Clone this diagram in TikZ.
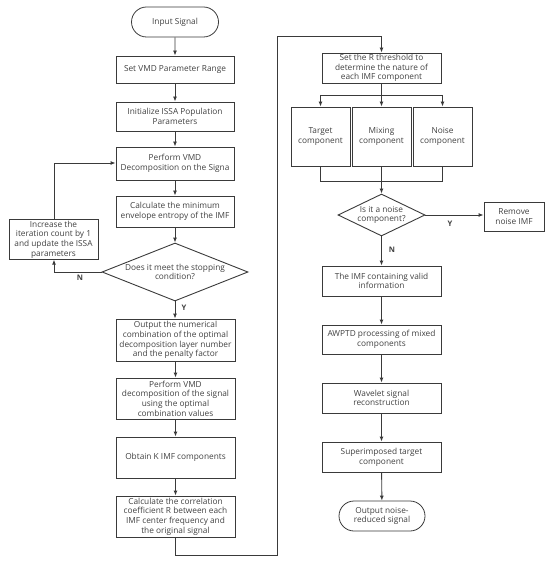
\documentclass[tikz,border=0pt]{standalone}
\usepackage{fontspec}
\setmainfont{Open Sans}
\usetikzlibrary{shapes.geometric,shapes.misc,arrows.meta}
\definecolor{ln}{HTML}{3A3A3A}
\definecolor{tx}{HTML}{404040}
\begin{document}
\begin{tikzpicture}[x=1pt,y=-1pt,
  every node/.style={font=\fontsize{8.3}{9.7}\selectfont, text=tx, align=center, inner sep=1pt},
  box/.style={draw=ln, line width=0.9pt, rectangle, minimum width=#1},
  box/.default=118,
  term/.style={draw=ln, line width=0.8pt, rounded rectangle, minimum width=88, minimum height=30},
  dec/.style={draw=ln, line width=0.9pt, diamond, inner sep=0pt, aspect=2.5},
  arr/.style={draw=ln, line width=0.9pt, -{Latex[length=5pt,width=4pt]}},
  ln/.style={draw=ln, line width=0.9pt},
  lab/.style={font=\fontsize{7.6}{9}\selectfont\bfseries}]
\useasboundingbox (0,0) rectangle (550,561);
% left column
\node[term, minimum width=89] (in) at (175,22) {Input Signal};
\node[box, minimum height=27] (set) at (175,69.5) {Set VMD Parameter Range};
\node[box, minimum height=29] (init) at (175,116.5) {Initialize ISSA Population\\Parameters};
\node[box, minimum height=33] (perf) at (175,163.5) {Perform VMD\\Decomposition on the Signa};
\node[box, minimum height=31] (calc) at (175,211.5) {Calculate the minimum\\envelope entropy of the IMF};
\node[box=89, minimum height=37] (inc) at (53.5,239.5) {Increase the\\iteration count by 1\\and update the ISSA\\parameters};
\node[dec, minimum width=146, minimum height=58] (stop) at (175,272) {};
\node (stoptxt) at (175,272) {Does it meet the stopping\\condition?};
\node[box=119, minimum height=42] (out) at (175.5,340) {Output the numerical\\combination of the optimal\\decomposition layer number\\and the penalty factor};
\node[box=119, minimum height=41] (vmd2) at (175.5,398.5) {Perform VMD\\decomposition of the signal\\using the optimal\\combination values};
\node[box=119, minimum height=41] (obt) at (175.5,457.5) {Obtain K IMF components};
\node[box=119, minimum height=41] (corr) at (175.5,516.5) {Calculate the correlation\\coefficient R between each\\IMF center frequency and\\the original signal};
% right column
\node[box=119, minimum height=30] (setr) at (381.5,68) {Set the R threshold to\\determine the nature of\\each IMF component};
\node[box=59, minimum height=59] (tgt) at (320.5,136.5) {Target\\component};
\node[box=59, minimum height=59] (mix) at (381.5,136.5) {Mixing\\component};
\node[box=59, minimum height=59] (noi) at (442.5,136.5) {Noise\\component};
\node[dec, minimum width=87, minimum height=42, aspect=2] (isn) at (381.5,215) {};
\node (isntxt) at (381.5,215) {Is it a noise\\component?};
\node[box=60, minimum height=29] (rem) at (514,216.5) {Remove\\noise IMF};
\node[box=119, minimum height=30] (imf) at (381.5,281) {The IMF containing valid\\information};
\node[box=119, minimum height=29] (awp) at (381.5,339.5) {AWPTD processing of mixed\\components};
\node[box=119, minimum height=30] (wav) at (381.5,398) {Wavelet signal\\reconstruction};
\node[box=119, minimum height=30] (sup) at (381.5,457) {Superimposed target\\component};
\node[term] (out2) at (382,516) {Output noise-\\reduced signal};
% coordinates
\coordinate (l1) at (54,272);
\coordinate (l2) at (54,163);
\coordinate (b1) at (175.5,555);
\coordinate (b2) at (277,555);
\coordinate (b3) at (277,36);
\coordinate (b4) at (381.5,36);
\coordinate (s1) at (320.5,95);
\coordinate (s2) at (442.5,95);
\coordinate (s0) at (381.5,95);
\coordinate (m1) at (320.5,181);
\coordinate (m2) at (442.5,181);
\coordinate (m0) at (381.5,181);
% connectors
\draw[arr] (in) -- (set);
\draw[arr] (set) -- (init);
\draw[arr] (init) -- (perf);
\draw[arr] (perf) -- (calc);
\draw[arr] (calc) -- (stop.north);
\draw[arr] (stop.west) -- (l1) -- (inc.south -| l1);
\draw[arr] (inc.north -| l2) -- (l2) -- (perf.west |- l2);
\draw[arr] (stop.south) -- (out.north -| stop.south);
\draw[arr] (out) -- (vmd2);
\draw[arr] (vmd2) -- (obt);
\draw[arr] (obt) -- (corr);
\draw[arr] (corr.south) -- (b1) -- (b2) -- (b3) -- (b4) -- (setr.north);
\draw[ln] (setr.south) -- (s0);
\draw[ln] (s1) -- (s2);
\draw[arr] (s1) -- (tgt.north);
\draw[arr] (s0) -- (mix.north);
\draw[arr] (s2) -- (noi.north);
\draw[ln] (tgt.south) -- (m1) -- (m2) -- (noi.south);
\draw[arr] (mix.south) -- (isn.north);
\draw[arr] (isn.east) -- (rem.west |- isn.east);
\draw[arr] (isn.south) -- (imf.north);
\draw[arr] (imf) -- (awp);
\draw[arr] (awp) -- (wav);
\draw[arr] (wav) -- (sup);
\draw[arr] (sup) -- (out2);
% labels
\node[lab] (ln) at (80,278) {N};
\node[lab] (ly) at (184,308) {Y};
\node[lab] (ly2) at (450,224) {Y};
\node[lab] (ln2) at (392,250) {N};
\end{tikzpicture}
\end{document}
